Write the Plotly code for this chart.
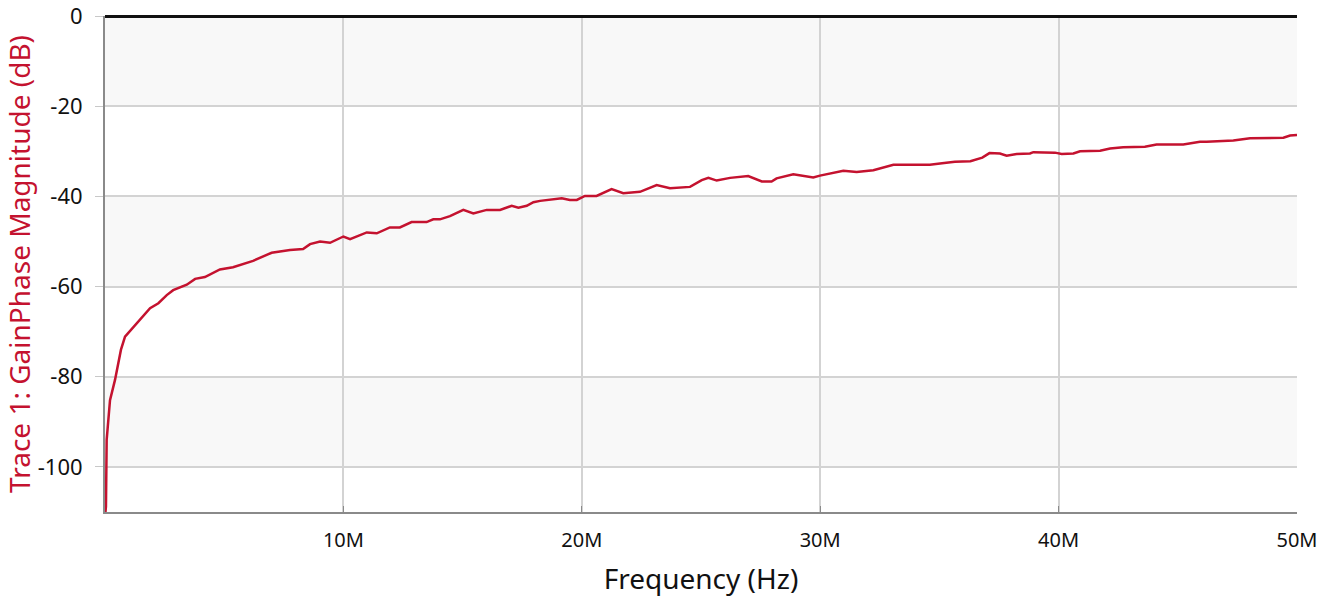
import plotly.graph_objects as go

# Frequency (MHz) and gain magnitude (dB)
FREQ_MHZ = [
    0.02, 0.04, 0.07, 0.21, 0.42, 0.67, 0.84, 1.33, 1.89, 2.24, 2.59, 2.86,
    3.43, 3.78, 4.19, 4.82, 5.37, 6.21, 6.99, 7.76, 8.31, 8.60, 9.02, 9.44,
    10.0, 10.28, 10.98, 11.4, 11.95, 12.37, 12.86, 13.49, 13.77, 14.05, 14.47,
    15.03, 15.45, 16.01, 16.57, 17.06, 17.34, 17.69, 17.97, 18.25, 18.67,
    19.16, 19.5, 19.79, 20.13, 20.62, 21.25, 21.74, 22.44, 23.14, 23.7, 24.54,
    25.03, 25.31, 25.66, 26.22, 26.98, 27.55, 27.96, 28.17, 28.87, 29.71,
    29.99, 30.55, 30.97, 31.53, 32.23, 33.07, 33.35, 34.6, 35.2, 35.65, 36.3,
    36.8, 37.1, 37.54, 37.82, 38.24, 38.8, 38.94, 39.85, 40.13, 40.62, 40.9,
    41.74, 42.16, 42.71, 43.62, 44.11, 45.23, 45.93, 46.21, 47.33, 48.03,
    49.43, 49.71, 50.0,
]
GAIN_DB = [
    -110.0, -108.8, -94.0, -85.2, -80.7, -74.0, -71.1, -68.1, -64.8, -63.7,
    -61.9, -60.8, -59.6, -58.3, -57.9, -56.2, -55.7, -54.3, -52.5, -51.9,
    -51.7, -50.6, -50.0, -50.3, -48.9, -49.5, -48.0, -48.2, -46.9, -46.9,
    -45.7, -45.7, -45.1, -45.1, -44.4, -43.0, -43.8, -43.0, -43.0, -42.1,
    -42.5, -42.1, -41.3, -41.0, -40.8, -40.4, -40.8, -40.8, -39.9, -39.9,
    -38.4, -39.3, -39.0, -37.5, -38.2, -37.9, -36.4, -35.9, -36.5, -35.9,
    -35.5, -36.7, -36.7, -36.0, -35.1, -35.8, -35.4, -34.8, -34.3, -34.6,
    -34.2, -33.0, -33.0, -33.0, -32.6, -32.3, -32.2, -31.4, -30.4, -30.5,
    -31.0, -30.6, -30.5, -30.2, -30.3, -30.6, -30.5, -30.0, -29.9, -29.4,
    -29.1, -29.0, -28.5, -28.5, -27.9, -27.9, -27.6, -27.1, -27.0, -26.5,
    -26.4,
]

X_TICKS = [10e6, 20e6, 30e6, 40e6, 50e6]
X_LABELS = ["10M", "20M", "30M", "40M", "50M"]
Y_TICKS = [0, -20, -40, -60, -80, -100]
Y_LABELS = ["0", "-20", "-40", "-60", "-80", "-100"]

RED = "#c4122f"
FONT = "Noto Sans"

fig = go.Figure()
fig.add_trace(go.Scatter(
    x=[f * 1e6 for f in FREQ_MHZ],
    y=GAIN_DB,
    mode="lines",
    line=dict(color=RED, width=2.5),
    showlegend=False,
))

# alternating shaded bands between every other pair of y gridlines
shapes = []
for i in range(0, len(Y_TICKS) - 1, 2):
    shapes.append(dict(
        type="rect", xref="paper", yref="y", layer="below",
        x0=0, x1=1, y0=Y_TICKS[i + 1], y1=Y_TICKS[i],
        fillcolor="#f8f8f8", line_width=0,
    ))

fig.update_xaxes(
    range=[0, 50e6], automargin=False,
    tickvals=X_TICKS, ticktext=X_LABELS,
    showgrid=True, gridcolor="#d3d3d3", gridwidth=1.5,
    showline=True, linecolor="#8a8a8a", linewidth=2,
    ticks="inside", ticklen=6, tickcolor="#8a8a8a", ticklabelstandoff=9,
    zeroline=False,
    tickfont=dict(family=FONT, size=20, color="#111"),
    title=dict(text="Frequency (Hz)", font=dict(family=FONT, size=28, color="#111"), standoff=26),
)
fig.update_yaxes(
    range=[-110, 0], automargin=False,
    tickvals=Y_TICKS, ticktext=Y_LABELS,
    showgrid=True, gridcolor="#d3d3d3", gridwidth=1.5,
    showline=True, linecolor="#8a8a8a", linewidth=2,
    ticks="outside", ticklen=8, tickcolor="#c8c8c8", ticklabelstandoff=8,
    ticklabeloverflow="allow",
    zeroline=True, zerolinecolor="#111", zerolinewidth=3,
    tickfont=dict(family=FONT, size=22, color="#111"),
    title=dict(text="Trace 1: GainPhase Magnitude (dB)", font=dict(family=FONT, size=28, color=RED), standoff=4),
)
fig.update_layout(
    width=1336, height=597,
    margin=dict(l=105, r=39, t=16, b=85),
    paper_bgcolor="white", plot_bgcolor="white",
    shapes=shapes,
)

html = fig.to_html(config={"displayModeBar": False})
html = html.replace("<body>", '<body style="margin:0">', 1)
with open("out.html", "w", encoding="utf-8") as f:
    f.write(html)
